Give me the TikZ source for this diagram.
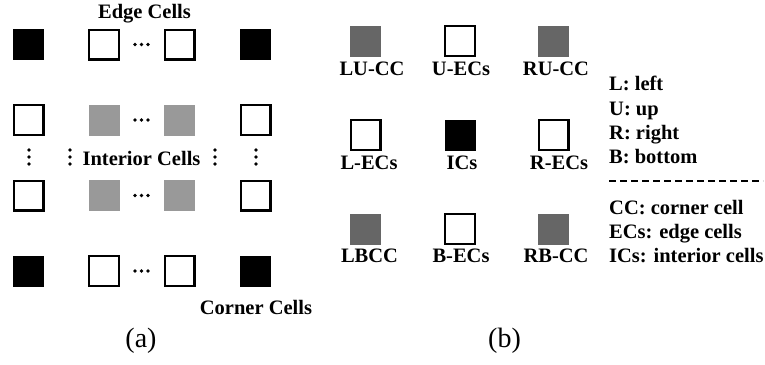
\documentclass[tikz,border=0pt]{standalone}
\usepackage{fontspec}
\setmainfont{Liberation Serif}
\begin{document}
\begin{tikzpicture}[x=1pt,y=-1pt,
  txt/.style={font=\bfseries\fontsize{20.5}{24}\selectfont, inner sep=0pt},
  subcap/.style={font=\fontsize{28}{32}\selectfont, inner sep=0pt},
  cellblack/.style={fill=black, minimum size=31pt, inner sep=0pt},
  cellwhite/.style={draw=black, line width=2.2pt, fill=white, minimum size=29.8pt, inner sep=0pt},
  cellgray/.style={fill=black!40, minimum size=31pt, inner sep=0pt},
  celldark/.style={fill=black!60, minimum size=31pt, inner sep=0pt},
  dotmark/.style={fill=black}]
\useasboundingbox (0,0) rectangle (765,364);

% ---------- (a): grid of cells ----------
\foreach \n/\x/\y/\s in {a11/28.5/44.5/cellblack, a12/104/44.5/cellwhite, a13/179.5/44.5/cellwhite, a14/255.5/44.5/cellblack,
                         a21/28.5/120/cellwhite,  a22/104/120/cellgray,    a23/179.5/120/cellgray,    a24/255.5/120/cellwhite,
                         a31/28.5/195.5/cellwhite,a32/104/195.5/cellgray,  a33/179.5/195.5/cellgray,  a34/255.5/195.5/cellwhite,
                         a41/28.5/271/cellblack,  a42/104/271/cellwhite,   a43/179.5/271/cellwhite,   a44/255.5/271/cellblack}
  \node[\s] (\n) at (\x,\y) {};

% horizontal ellipses between the middle columns
\foreach \y in {44.5,120,195.5,271}
  \foreach \x in {135,141.5,148}
    \fill[dotmark] (\x,\y) circle (1.8pt);

% vertical ellipses between the middle rows
\foreach \x in {29,70,215,256}
  \foreach \y in {150,157,164}
    \fill[dotmark] (\x,\y) circle (1.8pt);

\node[txt, anchor=base] (edge) at (144.5,18) {Edge Cells};
\node[txt, anchor=base] (interior) at (141.5,165) {Interior Cells};
\node[txt, anchor=base] (corner) at (256,314) {Corner Cells};
\node[subcap, anchor=base] (capa) at (141,347) {(a)};

% ---------- (b): cell types ----------
\node[celldark]  (lucc) at (365.5,41) {};
\node[cellwhite] (uecs) at (460,41) {};
\node[celldark]  (rucc) at (553.5,41) {};
\node[cellwhite] (lecs) at (365.5,135) {};
\node[cellblack] (ics)  at (460,135) {};
\node[cellwhite] (recs) at (553.5,135) {};
\node[celldark]  (lbcc) at (365.5,229) {};
\node[cellwhite] (becs) at (460,229) {};
\node[celldark]  (rbcc) at (553.5,229) {};

\node[txt, anchor=base] (tlucc) at (372,75) {LU-CC};
\node[txt, anchor=base] (tuecs) at (461,75) {U-ECs};
\node[txt, anchor=base] (trucc) at (556,75) {RU-CC};
\node[txt, anchor=base] (tlecs) at (369,169) {L-ECs};
\node[txt, anchor=base] (tics)  at (462,169) {ICs};
\node[txt, anchor=base] (trecs) at (559,169) {R-ECs};
\node[txt, anchor=base] (tlbcc) at (369.5,262) {LBCC};
\node[txt, anchor=base] (tbecs) at (461,262) {B-ECs};
\node[txt, anchor=base] (trbcc) at (556,262) {RB-CC};

% legend
\node[txt, anchor=base west] (kl) at (609,90)    {L: left};
\node[txt, anchor=base west] (ku) at (609,115)   {U: up};
\node[txt, anchor=base west] (kr) at (609,139)   {R: right};
\node[txt, anchor=base west] (kb) at (609,163.5) {B: bottom};
\coordinate (sepl) at (609,181);
\coordinate (sepr) at (763,181);
\draw[line width=1.8pt, dash pattern=on 7pt off 4pt] (sepl) -- (sepr);
\node[txt, anchor=base west] (kcc) at (609,214) {CC: corner cell};
\node[txt, anchor=base west] (kec) at (609,238) {ECs: edge cells};
\node[txt, anchor=base west] (kic) at (609,262) {ICs: interior cells};

\node[subcap, anchor=base] (capb) at (504.5,347) {(b)};
\end{tikzpicture}
\end{document}
